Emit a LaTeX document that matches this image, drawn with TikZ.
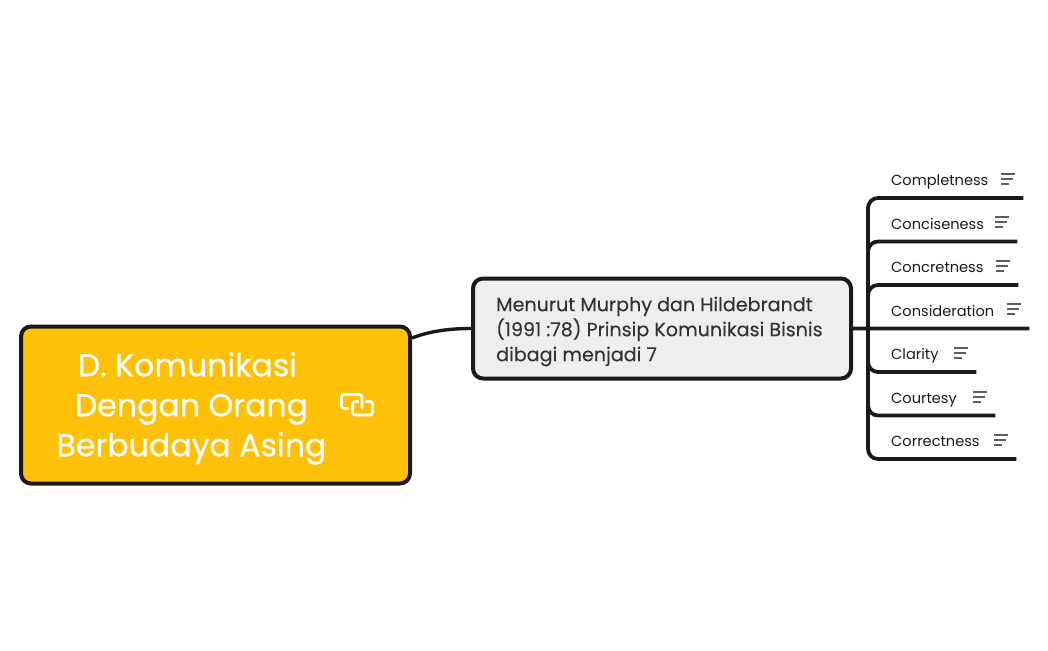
\documentclass[tikz,border=0pt]{standalone}
\usepackage{fontspec}
\setmainfont{Poppins}
\newfontfamily\rootfont[FakeBold=0.4]{Poppins}
\newfontfamily\midfont[FakeBold=0.15]{Poppins}
\definecolor{rootfill}{HTML}{FFC107}
\definecolor{midfill}{HTML}{EEEEEE}
\definecolor{inkline}{HTML}{1A1A1A}
\definecolor{midtext}{HTML}{333333}
\usetikzlibrary{positioning}

\begin{document}
\begin{tikzpicture}[x=1pt,y=-1pt,
    root node/.style={draw=inkline,fill=rootfill,line width=4pt,rounded corners=10pt,minimum width=389pt,minimum height=157pt,inner sep=0pt},
    root text/.style={text=white,font=\rootfont\fontsize{31.6}{40}\selectfont,align=center,inner sep=0pt},
    mid node/.style={draw=inkline,fill=midfill,line width=4pt,rounded corners=10pt,minimum width=378pt,minimum height=100pt,inner sep=0pt},
    mid text/.style={text=midtext,font=\midfont\fontsize{19.1}{25}\selectfont,align=left,inner sep=0pt},
    leaf/.style={anchor=south west,text width=#1,align=left,inner xsep=5pt,inner ysep=8pt,text height=12pt,text depth=4pt,text=inkline,font=\fontsize{14.6}{20}\selectfont},
    branch/.style={draw=inkline,line width=3.8pt,rounded corners=10pt},
    note line/.style={draw=inkline!70,line width=1.2pt},
    link line/.style={draw=white,line width=2.6pt,rounded corners=2.5pt,line cap=round}]
  \useasboundingbox (0,0) rectangle (1048,650);
  \node[root node] (root) at (215.5,405) {};
  \node[root text] (roottext) at (191.5,408.5) {D. Komunikasi\hspace*{8pt}\\Dengan Orang\hspace*{9pt}\\Berbudaya Asing};
  \node[mid node] (mid) at (662,328.5) {};
  \node[mid text,anchor=west] (midtext) at (496,331.5) {Menurut Murphy dan Hildebrandt\\(1991 :78) Prinsip Komunikasi Bisnis\\dibagi menjadi 7};
  \coordinate (rootout) at (root.east |- 0,338);
  \coordinate (hub) at (868,328.5);
  \node[leaf=127pt] (completeness) at (886,198) {Completness};
  \node[leaf=121pt] (conciseness) at (886,241.5) {Conciseness};
  \node[leaf=122pt] (concretness) at (886,285) {Concretness};
  \node[leaf=133pt] (consideration) at (886,328.5) {Consideration};
  \node[leaf=80pt] (clarity) at (886,372) {Clarity};
  \node[leaf=99pt] (courtesy) at (886,415.5) {Courtesy};
  \node[leaf=120pt] (correctness) at (886,459) {Correctness};
  % note marks
  \foreach \nx/\ny in {1008/179,1002/222,1003/266,1014/309,961/353,980/397,1001/440}{
    \draw[note line] (\nx-7,\ny-5) -- +(14,0) (\nx-7,\ny) -- +(12,0) (\nx-7,\ny+5) -- +(8,0);
  }
  % link mark
  \draw[link line] (348,408.5) -- (341.5,408.5) -- (341.5,394.5) -- (362,394.5) -- (362,408);
  \draw[link line] (366,401.5) -- (372.5,401.5) -- (372.5,415) -- (352.5,415) -- (352.5,401.5) -- (358,401.5);
  \draw[draw=inkline,line width=3.4pt] (rootout) .. controls (430,331) and (450,328.5) .. (mid.west);
  \path[branch]
    (mid.east) -- (consideration.south east)
    (hub) |- (completeness.south east)
    (hub) |- (conciseness.south east)
    (hub) |- (concretness.south east)
    (hub) |- (clarity.south east)
    (hub) |- (courtesy.south east)
    (hub) |- (correctness.south east);
\end{tikzpicture}
\end{document}
